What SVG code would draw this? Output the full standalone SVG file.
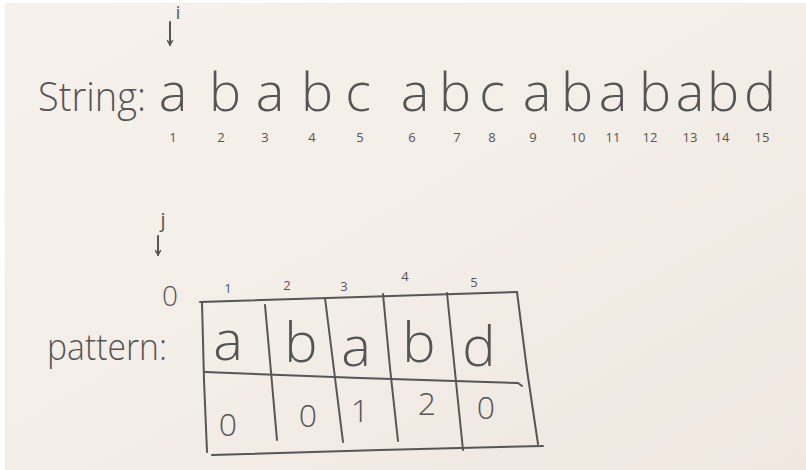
<svg xmlns="http://www.w3.org/2000/svg" width="806" height="470" viewBox="0 0 806 470">
<defs>
<linearGradient id="bg" x1="0" y1="0" x2="1" y2="1">
<stop offset="0" stop-color="#f6f1ec"/>
<stop offset="0.5" stop-color="#f4eee8"/>
<stop offset="1" stop-color="#efe7e0"/>
</linearGradient>
<marker id="ah" viewBox="0 0 10 10" refX="9" refY="5" markerWidth="7" markerHeight="7" orient="auto" markerUnits="userSpaceOnUse">
<path d="M2 1 L9 5 L2 9" fill="none" stroke="#555" stroke-width="2"/>
</marker>
<style>
.hw{font-family:"Open Sans","DejaVu Sans",sans-serif;font-weight:300;fill:#555;}
.sm{font-family:"Open Sans","DejaVu Sans",sans-serif;font-weight:400;fill:#555;text-anchor:middle;}
.big{font-size:54px;text-anchor:middle;}
.idx{font-size:13px;text-anchor:middle;font-weight:400;}
.cell{font-size:56px;text-anchor:middle;}
.dig{font-size:32px;text-anchor:middle;}
.ln{fill:none;stroke:#565656;stroke-width:2;stroke-linecap:round;}
</style>
</defs>
<rect x="0" y="0" width="806" height="470" fill="#ffffff"/>
<rect x="5" y="3" width="801" height="467" fill="url(#bg)"/>

<g id="pointer-i">
<text class="sm" x="178" y="19" font-size="18">i</text>
<path class="ln" d="M170 22 L170 45" marker-end="url(#ah)"/>
</g>

<g id="string-row">
<text class="hw" x="38" y="111" font-size="40" textLength="108" lengthAdjust="spacingAndGlyphs">String:</text>
<text class="hw big" x="173" y="111">a</text>
<text class="hw big" x="225" y="111">b</text>
<text class="hw big" x="270" y="111">a</text>
<text class="hw big" x="317" y="111">b</text>
<text class="hw big" x="358" y="111">c</text>
<text class="hw big" x="415" y="111">a</text>
<text class="hw big" x="455" y="111">b</text>
<text class="hw big" x="492" y="111">c</text>
<text class="hw big" x="537" y="111">a</text>
<text class="hw big" x="577" y="111">b</text>
<text class="hw big" x="613" y="111">a</text>
<text class="hw big" x="655" y="111">b</text>
<text class="hw big" x="690" y="111">a</text>
<text class="hw big" x="723" y="111">b</text>
<text class="hw big" x="760" y="111">d</text>
</g>

<g id="string-index">
<text class="hw idx" x="173" y="142">1</text>
<text class="hw idx" x="221" y="142">2</text>
<text class="hw idx" x="265" y="142">3</text>
<text class="hw idx" x="312" y="142">4</text>
<text class="hw idx" x="360" y="142">5</text>
<text class="hw idx" x="412" y="142">6</text>
<text class="hw idx" x="457" y="142">7</text>
<text class="hw idx" x="492" y="142">8</text>
<text class="hw idx" x="533" y="142">9</text>
<text class="hw idx" x="578" y="142">10</text>
<text class="hw idx" x="613" y="142">11</text>
<text class="hw idx" x="650" y="142">12</text>
<text class="hw idx" x="690" y="142">13</text>
<text class="hw idx" x="722" y="142">14</text>
<text class="hw idx" x="762" y="142">15</text>
</g>

<g id="pointer-j">
<text class="sm" x="163" y="227" font-size="20">j</text>
<path class="ln" d="M158 236 L158 255" marker-end="url(#ah)"/>
<text class="hw" x="170" y="306" font-size="28" text-anchor="middle">0</text>
</g>

<g id="pattern-label">
<text class="hw" x="47" y="360" font-size="36" textLength="120" lengthAdjust="spacingAndGlyphs">pattern:</text>
</g>

<g id="pattern-index">
<text class="hw idx" x="228" y="293">1</text>
<text class="hw idx" x="287" y="290">2</text>
<text class="hw idx" x="344" y="291">3</text>
<text class="hw idx" x="405" y="281">4</text>
<text class="hw idx" x="474" y="287">5</text>
</g>

<g id="table">
<path class="ln" d="M200 302 L360 297 L517 292"/>
<path class="ln" d="M202 302 L204 380 L207 452"/>
<path class="ln" d="M205 372 L360 378 L518 383 L522 386"/>
<path class="ln" d="M212 455 L380 450 L543 446"/>
<path class="ln" d="M517 292 L527 370 L538 444"/>
<path class="ln" d="M265 305 L271 372 L277 440"/>
<path class="ln" d="M325 298 L334 370 L343 442"/>
<path class="ln" d="M383 294 L390 368 L398 441"/>
<path class="ln" d="M447 293 L455 372 L463 450"/>
</g>

<g id="pattern-chars">
<text class="hw cell" x="228" y="360">a</text>
<text class="hw cell" x="301" y="362">b</text>
<text class="hw cell" x="356" y="366">a</text>
<text class="hw cell" x="419" y="362">b</text>
<text class="hw cell" x="479" y="366">d</text>
</g>

<g id="next-values">
<text class="hw dig" x="228" y="436">0</text>
<text class="hw dig" x="308" y="427">0</text>
<text class="hw dig" x="360" y="422">1</text>
<text class="hw dig" x="427" y="415">2</text>
<text class="hw dig" x="486" y="419">0</text>
</g>
</svg>
